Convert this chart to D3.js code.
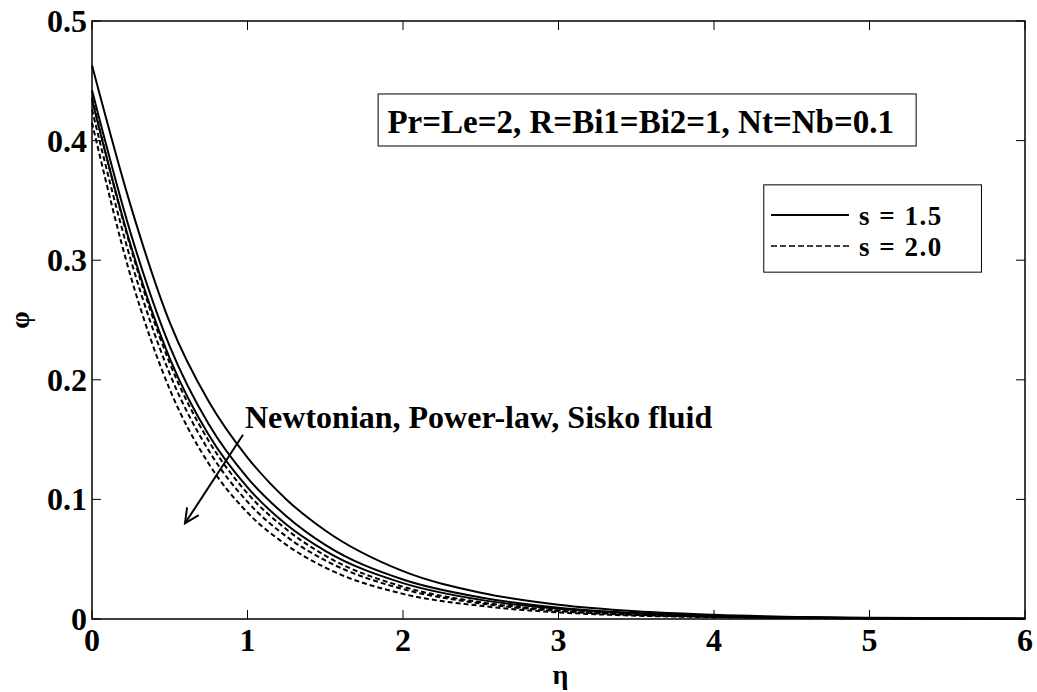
<!DOCTYPE html>
<html>
<head>
<meta charset="utf-8">
<script src="https://cdn.jsdelivr.net/npm/d3@7"></script>
<style>
  html, body { margin: 0; padding: 0; background: #fff; }
  svg text { font-family: "Liberation Serif", "Times New Roman", serif; font-weight: bold; fill: #000; }
</style>
</head>
<body>
<svg id="chart" width="1037" height="692"></svg>
<script>
/* Concentration profiles phi(eta), s = 1.5 (solid) vs s = 2.0 (dashed),
   Newtonian / Power-law / Sisko fluid. */
var eta = [0, 0.25, 0.5, 0.75, 1, 1.25, 1.5, 2, 2.5, 3, 3.5, 4, 5, 6];

var solid1 = [0.463, 0.345, 0.248, 0.182, 0.135, 0.100, 0.074, 0.040, 0.022, 0.012, 0.0065, 0.0035, 0.0010, 0.0003];
var solid2 = [0.442, 0.322, 0.228, 0.163, 0.118, 0.086, 0.062, 0.033, 0.018, 0.0095, 0.0050, 0.0027, 0.0008, 0.0002];
var solid3 = [0.434, 0.312, 0.218, 0.154, 0.110, 0.079, 0.057, 0.030, 0.016, 0.0085, 0.0045, 0.0024, 0.0007, 0.0002];
var dash1  = [0.436, 0.310, 0.214, 0.149, 0.105, 0.075, 0.053, 0.027, 0.014, 0.0072, 0.0038, 0.0020, 0.0006, 0.0002];
var dash2  = [0.426, 0.300, 0.205, 0.141, 0.098, 0.069, 0.049, 0.025, 0.013, 0.0066, 0.0034, 0.0018, 0.0005, 0.0001];
var dash3  = [0.415, 0.286, 0.192, 0.130, 0.089, 0.062, 0.043, 0.021, 0.011, 0.0055, 0.0028, 0.0015, 0.0004, 0.0001];

var xTicks = [0, 1, 2, 3, 4, 5, 6];
var yTicks = [0, 0.1, 0.2, 0.3, 0.4, 0.5];
var yTickLabels = ['0', '0.1', '0.2', '0.3', '0.4', '0.5'];

var series = [
  { values: solid1, dashed: false },
  { values: solid2, dashed: false },
  { values: solid3, dashed: false },
  { values: dash1, dashed: true },
  { values: dash2, dashed: true },
  { values: dash3, dashed: true }
];

var legendItems = [
  { label: 's = 1.5', dashed: false },
  { label: 's = 2.0', dashed: true }
];
var paramText = 'Pr=Le=2, R=Bi1=Bi2=1, Nt=Nb=0.1';
var arrowText = 'Newtonian, Power-law, Sisko fluid';

(function () {
  var svg = d3.select('#chart');
  var left = 92, right = 1025, top = 21, bottom = 619;

  var x = d3.scaleLinear().domain([0, 6]).range([left, right]);
  var y = d3.scaleLinear().domain([0, 0.5]).range([bottom, top]);

  /* curves */
  var line = d3.line()
    .x(function (d, i) { return x(eta[i]); })
    .y(function (d) { return y(d); })
    .curve(d3.curveMonotoneX);

  svg.append('g').selectAll('path').data(series).enter().append('path')
    .attr('d', function (s) { return line(s.values); })
    .attr('fill', 'none').attr('stroke', '#000').attr('stroke-width', 2)
    .attr('stroke-dasharray', function (s) { return s.dashed ? '5,3' : null; });

  /* frame */
  svg.append('rect')
    .attr('x', left).attr('y', top).attr('width', right - left).attr('height', bottom - top)
    .attr('fill', 'none').attr('stroke', '#000').attr('stroke-width', 1.5);

  /* ticks (inward, all four sides) */
  var tl = 9;
  var tg = svg.append('g').attr('stroke', '#000').attr('stroke-width', 1);
  xTicks.forEach(function (t) {
    tg.append('line').attr('x1', x(t)).attr('x2', x(t)).attr('y1', bottom).attr('y2', bottom - tl);
    tg.append('line').attr('x1', x(t)).attr('x2', x(t)).attr('y1', top).attr('y2', top + tl);
  });
  yTicks.forEach(function (t) {
    tg.append('line').attr('x1', left).attr('x2', left + tl).attr('y1', y(t)).attr('y2', y(t));
    tg.append('line').attr('x1', right).attr('x2', right - tl).attr('y1', y(t)).attr('y2', y(t));
  });

  /* tick labels */
  svg.append('g').selectAll('text').data(xTicks).enter().append('text')
    .attr('x', function (d) { return x(d); }).attr('y', bottom + 32)
    .attr('text-anchor', 'middle').style('font-size', '32px')
    .text(function (d) { return d; });
  svg.append('g').selectAll('text').data(yTicks).enter().append('text')
    .attr('x', left - 5).attr('y', function (d) { return y(d) + 11; })
    .attr('text-anchor', 'end').style('font-size', '32px')
    .text(function (d, i) { return yTickLabels[i]; });

  /* axis labels */
  svg.append('text').attr('x', (left + right) / 2 + 2).attr('y', 684)
    .attr('text-anchor', 'middle').style('font-size', '28px').text('\u03b7');
  svg.append('text').attr('transform', 'translate(29,' + ((top + bottom) / 2) + ') rotate(-90)')
    .attr('text-anchor', 'middle').style('font-size', '28px').text('\u03c6');

  /* parameter box */
  svg.append('rect')
    .attr('x', x(1.84)).attr('y', y(0.439))
    .attr('width', x(5.30) - x(1.84)).attr('height', y(0.3955) - y(0.439))
    .attr('fill', '#fff').attr('stroke', '#000').attr('stroke-width', 1);
  svg.append('text').attr('x', x(1.90)).attr('y', y(0.406))
    .style('font-size', '33px').text(paramText);

  /* legend */
  var lg = svg.append('g');
  lg.append('rect')
    .attr('x', x(4.32)).attr('y', y(0.363))
    .attr('width', x(5.72) - x(4.32)).attr('height', y(0.290) - y(0.363))
    .attr('fill', '#fff').attr('stroke', '#000').attr('stroke-width', 1);
  legendItems.forEach(function (it, i) {
    var yy = 215 + i * 31;
    lg.append('line').attr('x1', 771).attr('x2', 849).attr('y1', yy).attr('y2', yy)
      .attr('stroke', '#000').attr('stroke-width', it.dashed ? 1.5 : 2)
      .attr('stroke-dasharray', it.dashed ? '6,3' : null);
    lg.append('text').attr('x', 859).attr('y', yy + 10)
      .style('font-size', '27px').style('letter-spacing', '1.5px').text(it.label);
  });

  /* arrow annotation */
  var ax0 = x(0.971), ay0 = y(0.154), ax1 = x(0.598), ay1 = y(0.080);
  var ag = svg.append('g').attr('stroke', '#000').attr('stroke-width', 2).attr('fill', 'none');
  ag.append('line').attr('x1', ax0).attr('y1', ay0).attr('x2', ax1).attr('y2', ay1);
  var ang = Math.atan2(ay0 - ay1, ax0 - ax1), hl = 16, ha = 0.45;
  ag.append('path').attr('d',
    'M' + (ax1 + hl * Math.cos(ang + ha)) + ',' + (ay1 + hl * Math.sin(ang + ha)) +
    'L' + ax1 + ',' + ay1 +
    'L' + (ax1 + hl * Math.cos(ang - ha)) + ',' + (ay1 + hl * Math.sin(ang - ha)));
  svg.append('text').attr('x', x(0.984)).attr('y', y(0.160))
    .style('font-size', '32px').text(arrowText);
})();
</script>
</body>
</html>
